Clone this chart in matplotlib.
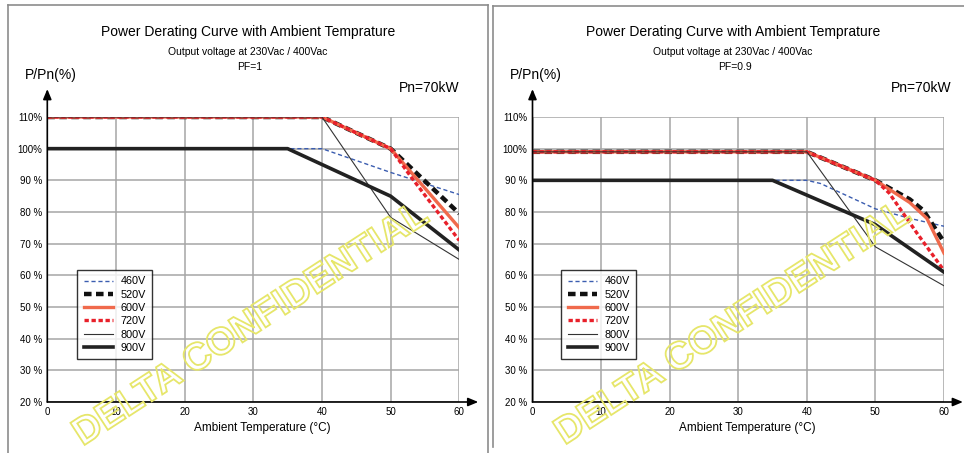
import matplotlib
matplotlib.use("Agg")
import matplotlib.pyplot as plt
import matplotlib.patheffects as pe
from matplotlib.lines import Line2D

plt.rcParams['font.family'] = ['Liberation Sans', 'DejaVu Sans']

# ---------------- data ----------------
titles = "Power Derating Curve with Ambient Temprature"
subtitle = "Output voltage at 230Vac / 400Vac"
pf_labels = ["PF=1", "PF=0.9"]
series_labels = ["460V", "520V", "600V", "720V", "800V", "900V"]
x_ticks = [0, 10, 20, 30, 40, 50, 60]
y_ticks = [20, 30, 40, 50, 60, 70, 80, 90, 100, 110]
y_tick_labels = ["20 %", "30 %", "40 %", "50 %", "60 %", "70 %", "80 %", "90 %", "100%", "110%"]

# PF = 1
pf1_460_t = [0, 40, 50, 60]
pf1_460_p = [100, 100, 92.5, 85.5]
pf1_520_t = [0, 40, 50, 60]
pf1_520_p = [110, 110, 100, 79.5]
pf1_600_t = [0, 40, 50, 60]
pf1_600_p = [110, 110, 100, 75]
pf1_720_t = [0, 40, 50, 53, 60]
pf1_720_p = [110, 110, 100, 91, 71]
pf1_800_t = [0, 40, 50, 60]
pf1_800_p = [110, 110, 78.3, 65]
pf1_900_t = [0, 35, 50, 60]
pf1_900_p = [100, 100, 85, 68]

# PF = 0.9
pf09_460_t = [0, 40, 42, 45, 50, 55, 60]
pf09_460_p = [90, 90, 89, 86, 81, 78, 75.5]
pf09_520_t = [0, 40, 50, 55, 57, 60]
pf09_520_p = [99, 99, 90, 84, 80.5, 70.5]
pf09_600_t = [0, 40, 50, 55, 57.5, 60]
pf09_600_p = [99, 99, 90, 83, 78, 67]
pf09_720_t = [0, 40, 50, 52, 56, 60]
pf09_720_p = [99, 99, 90, 86, 73.5, 61.5]
pf09_800_t = [0, 40, 50, 60]
pf09_800_p = [99, 99, 69, 56.7]
pf09_900_t = [0, 35, 50, 60]
pf09_900_p = [90, 90, 76, 61]

panels = [
    [(pf1_460_t, pf1_460_p), (pf1_520_t, pf1_520_p), (pf1_600_t, pf1_600_p),
     (pf1_720_t, pf1_720_p), (pf1_800_t, pf1_800_p), (pf1_900_t, pf1_900_p)],
    [(pf09_460_t, pf09_460_p), (pf09_520_t, pf09_520_p), (pf09_600_t, pf09_600_p),
     (pf09_720_t, pf09_720_p), (pf09_800_t, pf09_800_p), (pf09_900_t, pf09_900_p)],
]

styles = [
    dict(color='#3b5db0', lw=1.0, dashes=(3, 2)),
    dict(color='#111111', lw=3.2, dashes=(1.7, 1.0)),
    dict(color='#f06a4c', lw=2.4),
    dict(color='#e8202a', lw=2.4, dashes=(1.3, 0.8)),
    dict(color='#333333', lw=0.8),
    dict(color='#222222', lw=2.6),
]

W, H = 964, 453
fig = plt.figure(figsize=(W / 100, H / 100), dpi=100)
fig.patch.set_facecolor('white')

def px(x, y):
    return x / W, 1 - y / H

# panel frames
border = '#8c8c8c'
fig.add_artist(Line2D([8 / W, 8 / W], [0, 1 - 5 / H], color=border, lw=1.2))
fig.add_artist(Line2D([8 / W, 488 / W], [1 - 5 / H, 1 - 5 / H], color=border, lw=1.2))
fig.add_artist(Line2D([488 / W, 488 / W], [0, 1 - 5 / H], color=border, lw=1.2))
fig.add_artist(Line2D([493 / W, 493 / W], [1 - 447 / H, 1 - 6 / H], color=border, lw=1.2))
fig.add_artist(Line2D([493 / W, 1], [1 - 6 / H, 1 - 6 / H], color=border, lw=1.2))

axes_pos = [(47.3, 459.3), (532.5, 944.0)]
y_top_px, y_bot_px = 117.0, 402.0
title_cx = [248, 733]
legend_x = [77, 561]
ppn_x = [25, 510]
pn_right = [460, 952]
xlabel_cx = [262, 747]
wm_center = [(251, 325), (733, 324)]

for i, (x0p, x1p) in enumerate(axes_pos):
    ax = fig.add_axes([x0p / W, 1 - y_bot_px / H, (x1p - x0p) / W, (y_bot_px - y_top_px) / H])
    ax.set_xlim(0, 60)
    ax.set_ylim(20, 110)
    ax.set_xticks(x_ticks)
    ax.set_yticks(y_ticks)
    ax.set_yticklabels(y_tick_labels)
    ax.grid(True, color='#a6a6a6', lw=1.1)
    ax.set_axisbelow(True)
    for s in ax.spines.values():
        s.set_visible(False)
    ax.tick_params(length=0, labelsize=7, pad=3.5)
    ax.set_facecolor('none')

    for (t, p), lab, st in zip(panels[i], series_labels, styles):
        kw = dict(st)
        dashes = kw.pop('dashes', None)
        line, = ax.plot(t, p, label=lab, **kw)
        if dashes is not None:
            line.set_dashes(dashes)

    # axis arrows
    ax.annotate('', xy=(0, 1.098), xycoords='axes fraction', xytext=(0, 0),
                textcoords='axes fraction', annotation_clip=False,
                arrowprops=dict(arrowstyle='-|>,head_length=0.6,head_width=0.25',
                                color='black', lw=1.2, shrinkA=0, shrinkB=0))
    ax.annotate('', xy=(1.046, 0), xycoords='axes fraction', xytext=(0, 0),
                textcoords='axes fraction', annotation_clip=False,
                arrowprops=dict(arrowstyle='-|>,head_length=0.6,head_width=0.25',
                                color='black', lw=1.2, shrinkA=0, shrinkB=0))

    leg = ax.legend(loc='upper left',
                    bbox_to_anchor=((legend_x[i] - x0p) / (x1p - x0p), (y_bot_px - 270) / (y_bot_px - y_top_px)),
                    borderaxespad=0, fontsize=7.8, frameon=True, fancybox=False,
                    edgecolor='black', handlelength=2.7, handletextpad=0.7,
                    labelspacing=0.3, borderpad=0.6)
    leg.get_frame().set_linewidth(1.0)

    # texts
    fig.text(*px(title_cx[i], 32), titles, fontsize=10, ha='center', va='center')
    fig.text(*px(title_cx[i], 52), subtitle, fontsize=7.5, ha='center', va='center')
    fig.text(*px(title_cx[i] + 2, 67), pf_labels[i], fontsize=7.5, ha='center', va='center')
    fig.text(*px(ppn_x[i], 75), "P/Pn(%)", fontsize=10, ha='left', va='center')
    fig.text(*px(pn_right[i], 88), "Pn=70kW", fontsize=10, ha='right', va='center')
    fig.text(*px(xlabel_cx[i], 428), "Ambient Temperature (°C)", fontsize=8.5, ha='center', va='center')

    # watermark
    fig.text(*px(*wm_center[i]), "DELTA CONFIDENTIAL", fontsize=27.5, fontweight='bold', rotation=33,
             ha='center', va='center', rotation_mode='anchor', zorder=10,
             path_effects=[pe.PathPatchEffect(edgecolor='#e6e66a', facecolor='none', linewidth=1.3)])

fig.savefig('out.png', dpi=100)
